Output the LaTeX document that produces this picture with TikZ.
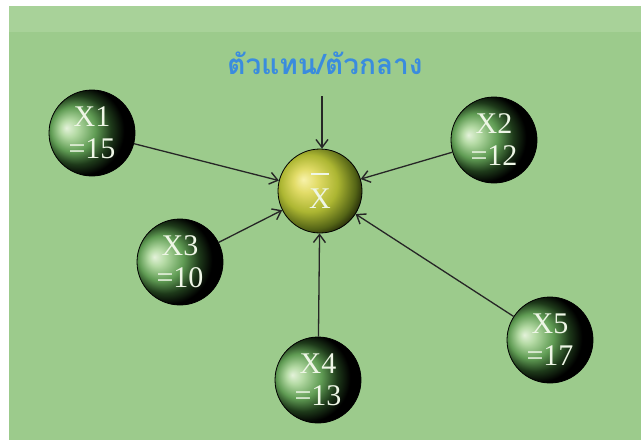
\documentclass[tikz,border=0pt]{standalone}
\usepackage{fontspec}
\setmainfont{Liberation Serif}
\newfontfamily\thaifont[Script=Thai]{Loma}
\usetikzlibrary{arrows.meta}

\definecolor{panelgreen}{RGB}{156,203,140}
\definecolor{bandgreen}{RGB}{168,210,153}
\definecolor{titleblue}{RGB}{58,140,222}
\definecolor{balltext}{RGB}{238,246,230}

% shading stops for the value balls
\definecolor{gbA}{RGB}{228,242,218}
\definecolor{gbB}{RGB}{180,218,164}
\definecolor{gbC}{RGB}{96,156,84}
\definecolor{gbD}{RGB}{30,58,26}
% shading stops for the mean ball
\definecolor{mbA}{RGB}{248,242,170}
\definecolor{mbB}{RGB}{226,220,104}
\definecolor{mbC}{RGB}{172,182,50}
\definecolor{mbD}{RGB}{84,100,22}

% dark green balls lit from the left
\pgfdeclareradialshading{greenball}{\pgfpoint{-15bp}{3bp}}{%
  color(0bp)=(gbA);
  color(5bp)=(gbB);
  color(13bp)=(gbC);
  color(20bp)=(gbD);
  color(26bp)=(black);
  color(50bp)=(black)}
% yellow-green ball for the mean
\pgfdeclareradialshading{meanball}{\pgfpoint{-10bp}{7bp}}{%
  color(0bp)=(mbA);
  color(7bp)=(mbB);
  color(17bp)=(mbC);
  color(26bp)=(mbD);
  color(33bp)=(black);
  color(50bp)=(black)}

\tikzset{
  valueball/.style={circle, minimum size=86pt, inner sep=0pt, draw=black,
    line width=0.8pt, shading=greenball, text=balltext, align=center,
    font=\fontsize{30}{32}\selectfont},
  meannode/.style={valueball, minimum size=84pt, shading=meanball},
  feed/.style={draw=black!85, line width=1.3pt,
    -{Straight Barb[length=8pt,width=12pt,line width=1.4pt]}},
}

\begin{document}
\begin{tikzpicture}[x=1pt,y=-1pt]
  \useasboundingbox (0,0) rectangle (641,440);
  % backdrop: white border, green panel with a lighter top band
  \fill[white] (0,0) rectangle (641,440);
  \fill[panelgreen] (9,6) rectangle (641,440);
  \fill[bandgreen] (9,6) rectangle (641,32);

  % heading
  \node[text=titleblue, font=\thaifont\bfseries\fontsize{28}{32}\selectfont]
    (title) at (325,63) {ตัวแทน/ตัวกลาง};
  \coordinate (titlefoot) at (322,96);

  % mean and data values
  \node[meannode] (mean) at (320,191) {\rule[2pt]{18pt}{1.6pt}\\X};
  \node[valueball] (x1) at (92,133) {X1\\=15};
  \node[valueball] (x2) at (494,140) {X2\\=12};
  \node[valueball] (x3) at (180,262) {X3\\=10};
  \node[valueball] (x4) at (318,380) {X4\\=13};
  \node[valueball] (x5) at (550,340) {X5\\=17};

  % connectors into the mean
  \draw[feed] (titlefoot) -- (titlefoot |- mean.north);
  \draw[feed] (x1) -- (mean);
  \draw[feed] (x2) -- (mean);
  \draw[feed] (x3) -- (mean);
  \draw[feed] (x4) -- (mean);
  \draw[feed] (x5) -- (mean);
\end{tikzpicture}
\end{document}
